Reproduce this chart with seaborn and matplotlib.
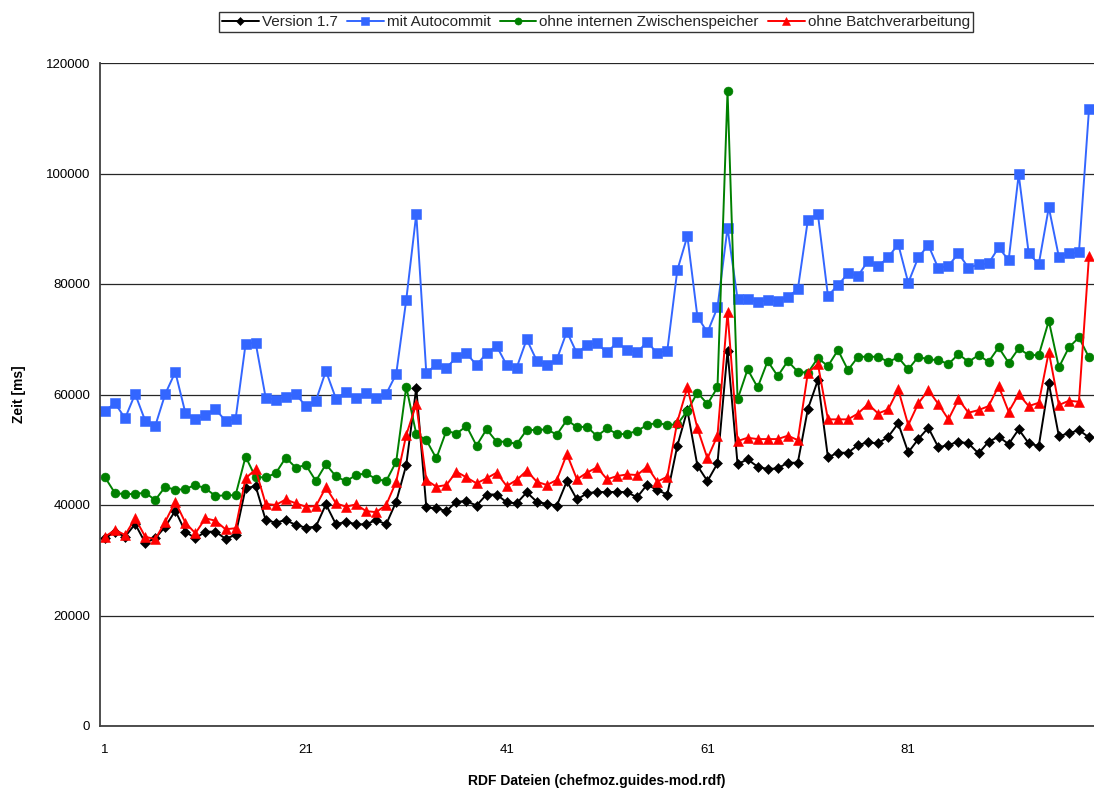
import numpy as np
import pandas as pd
import matplotlib
matplotlib.use("Agg")
import matplotlib.pyplot as plt
import seaborn as sns

# Laufzeiten je RDF-Datei in Millisekunden
version_17 = [
    33970, 35170, 34270, 36560, 33180, 33970, 36070, 38970, 35170, 33970,
    35170, 35170, 33900, 34570, 43020, 43440, 37280, 36800, 37280, 36380,
    35900, 36070, 40130, 36500, 36980, 36500, 36500, 37280, 36500, 40600,
    47230, 61220, 39570, 39390, 38900, 40600, 40700, 39900, 41900, 41900,
    40500, 40300, 42300, 40600, 40200, 39900, 44300, 41000, 42100, 42400,
    42300, 42400, 42300, 41400, 43700, 42700, 41900, 50720, 57180, 47110,
    44330, 47530, 67920, 47410, 48260, 46930, 46510, 46630, 47650, 47650,
    57360, 62610, 48620, 49460, 49460, 50850, 51340, 51150, 52350, 54770,
    49520, 51930, 53980, 50430, 50850, 51450, 51150, 49340, 51450, 52350,
    51030, 53700, 51150, 50670, 62010, 52480, 52960, 53560, 52240,
]
mit_autocommit = [
    57070, 58400, 55700, 60100, 55260, 54300, 60100, 64070, 56700, 55500,
    56350, 57320, 55260, 55500, 69140, 69380, 59430, 59000, 59600, 60030,
    57920, 58880, 64250, 59250, 60400, 59310, 60210, 59310, 60090, 63710,
    77100, 92670, 63840, 65470, 64860, 66700, 67450, 65340, 67450, 68780,
    65340, 64860, 69990, 66120, 65340, 66360, 71370, 67450, 68940, 69250,
    67620, 69430, 68040, 67620, 69550, 67440, 67920, 82510, 88670, 74100,
    71240, 75760, 90170, 77260, 77200, 76780, 77080, 76900, 77680, 79020,
    91560, 92650, 77870, 79800, 81910, 81490, 84200, 83240, 84810, 87220,
    80220, 84810, 87040, 82820, 83300, 85530, 82930, 83540, 83720, 86620,
    84320, 99830, 85530, 83600, 93860, 84920, 85530, 85710, 111590,
]
ohne_zwischenspeicher = [
    45010, 42120, 41990, 41990, 42230, 40900, 43310, 42720, 42900, 43620,
    43020, 41630, 41760, 41760, 48750, 45010, 45010, 45730, 48570, 46760,
    47240, 44350, 47370, 45180, 44300, 45420, 45730, 44700, 44330, 47830,
    61400, 52840, 51750, 48430, 53440, 52900, 54300, 50740, 53700, 51460,
    51460, 51040, 53580, 53580, 53700, 52730, 55390, 54100, 54160, 52480,
    53860, 52840, 52840, 53440, 54470, 54880, 54470, 54600, 57060, 60340,
    58270, 61280, 114900, 59120, 64550, 61280, 66050, 63330, 66050, 64110,
    63930, 66600, 65140, 68040, 64420, 66830, 66830, 66830, 65920, 66710,
    64540, 66830, 66350, 66230, 65500, 67310, 65920, 67130, 65920, 68520,
    65740, 68340, 67130, 67130, 73340, 64910, 68520, 70330, 66710,
]
ohne_batch = [
    34270, 35480, 34570, 37590, 34270, 33800, 36980, 40600, 36800, 34880,
    37590, 37160, 35600, 35800, 44830, 46460, 40200, 40000, 41000, 40300,
    39700, 39800, 43200, 40300, 39700, 40100, 38900, 38700, 40000, 44220,
    52660, 58270, 44520, 43310, 43620, 46030, 45000, 43920, 44830, 45850,
    43440, 44530, 46210, 44220, 43620, 44530, 49230, 44650, 45850, 46820,
    44650, 45240, 45540, 45420, 46930, 44220, 45120, 55070, 61280, 53900,
    48430, 52540, 74860, 51570, 52170, 51930, 51930, 51930, 52540, 51750,
    63930, 65500, 55500, 55500, 55500, 56560, 58270, 56560, 57300, 60920,
    54470, 58390, 60800, 58270, 55500, 59120, 56700, 57180, 57900, 61520,
    56880, 60030, 57900, 58510, 67730, 58090, 58870, 58690, 85050,
]

series_names = ["Version 1.7", "mit Autocommit",
                "ohne internen Zwischenspeicher", "ohne Batchverarbeitung"]
series_values = [version_17, mit_autocommit, ohne_zwischenspeicher, ohne_batch]
x_tick_labels = ["1", "21", "41", "61", "81"]
y_ticks = [0, 20000, 40000, 60000, 80000, 100000, 120000]

colors = ["#000000", "#3366FF", "#008000", "#FF0000"]
markers = ["D", "s", "o", "^"]
marker_sizes = [5.4, 6.5, 6.4, 7.2]

sns.set_theme(style="white")
plt.rcParams["font.family"] = ["Liberation Sans", "DejaVu Sans"]

W, H = 1094, 789
fig = plt.figure(figsize=(W / 100, H / 100), dpi=100)
ax = fig.add_axes([100 / W, 1 - 726 / H, 994 / W, 663 / H])

files = np.arange(1, len(version_17) + 1)
for name, vals, c, m, ms in zip(series_names, series_values, colors, markers, marker_sizes):
    df = pd.DataFrame({"Datei": files, "Zeit": vals})
    sns.lineplot(data=df, x="Datei", y="Zeit", ax=ax, color=c, marker=m,
                 markersize=ms, markeredgecolor=c, markeredgewidth=0.4,
                 linewidth=1.4, label=name, clip_on=False)

ax.set_xlim(0.5, len(version_17) + 0.5)
ax.set_ylim(0, 120000)

# category labels every 20 files, tick marks between categories
ax.set_xticks([int(t) for t in x_tick_labels])
ax.set_xticklabels(x_tick_labels)
ax.set_xticks([0.5, 20.5, 40.5, 60.5, 80.5], minor=True)
ax.tick_params(axis="x", which="major", length=0, pad=13, labelsize=9.5, colors="#000000")
ax.tick_params(axis="x", which="minor", length=4, width=1, color="#404040", direction="out")
ax.set_yticks(y_ticks)
ax.set_yticklabels([str(v) for v in y_ticks])
ax.tick_params(axis="y", which="major", length=4, width=1, color="#404040",
               direction="out", pad=3, labelsize=9.5, colors="#000000")
ax.tick_params(axis="y", colors="#404040", labelcolor="#000000")

ax.yaxis.grid(True, color="#262626", linewidth=0.9)
ax.xaxis.grid(False)
ax.set_axisbelow(True)
for side in ["top", "right"]:
    ax.spines[side].set_visible(False)
for side in ["left", "bottom"]:
    ax.spines[side].set_color("#404040")
    ax.spines[side].set_linewidth(1.3)

ax.set_ylabel("Zeit [ms]", fontsize=10, fontweight="bold", color="#000000")
ax.yaxis.set_label_coords(-0.074, 0.5)
ax.set_xlabel("RDF Dateien (chefmoz.guides-mod.rdf)", fontsize=10,
              fontweight="bold", color="#000000")
ax.xaxis.set_label_coords(0.5, -0.073)

ax.legend_.remove()
handles, labels = ax.get_legend_handles_labels()
leg = fig.legend(handles, labels, loc="center", ncol=4,
                 bbox_to_anchor=(596 / W, 1 - 22 / H), bbox_transform=fig.transFigure,
                 frameon=True, fancybox=False, fontsize=11.0, handlelength=2.4,
                 handletextpad=0.2, columnspacing=0.6, borderpad=0.22,
                 borderaxespad=0)
leg.get_frame().set_edgecolor("#000000")
leg.get_frame().set_linewidth(1.0)
for h in leg.legend_handles:
    h.set_markersize(h.get_markersize() * 0.8)

fig.savefig("out.png", dpi=100, facecolor="white")
